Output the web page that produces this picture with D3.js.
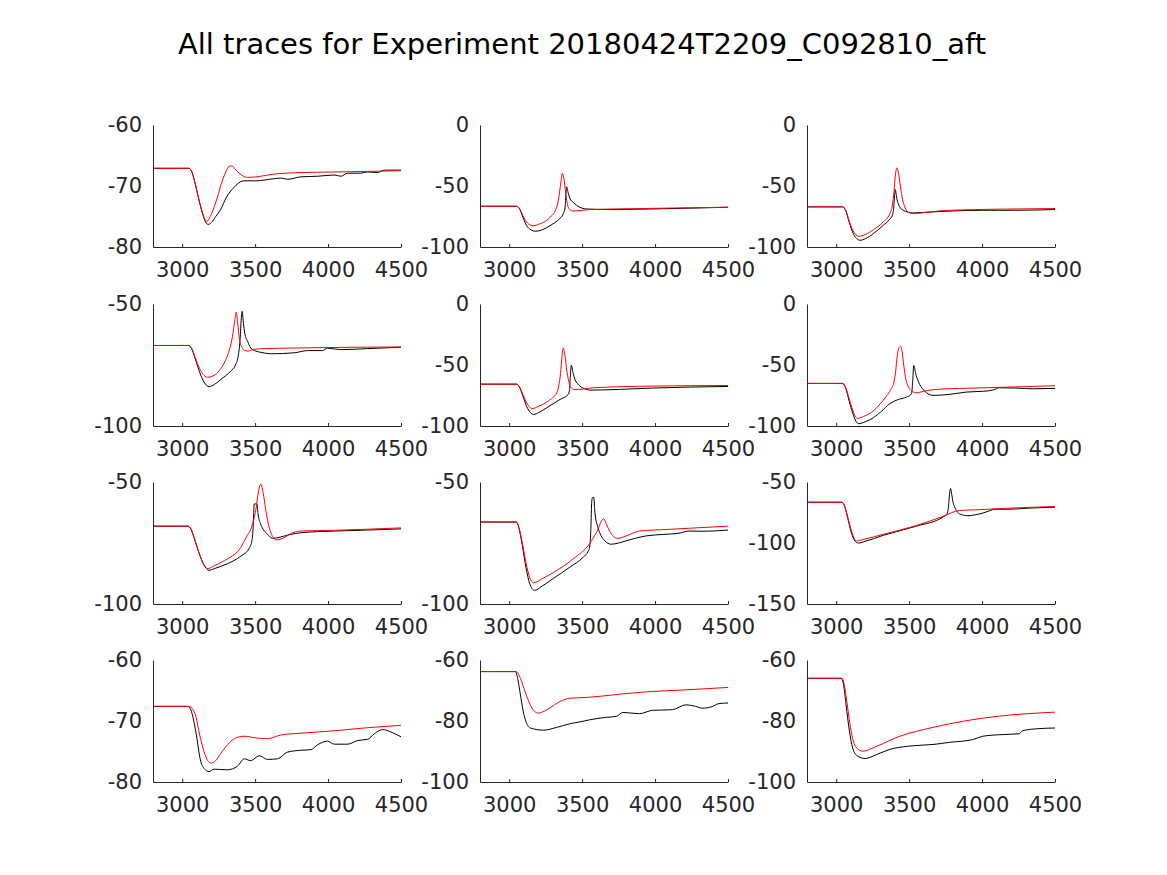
<!DOCTYPE html>
<html>
<head>
<meta charset="utf-8">
<script src="https://cdn.jsdelivr.net/npm/d3@7/dist/d3.min.js"></script>
<style>
  body { margin: 0; background: #fff; }
  svg { display: block; font-family: "DejaVu Sans", sans-serif; }
</style>
</head>
<body>
<div id="chart"></div>
<script>
// x range shared by all panels
let xDomain = [2800, 4500],
    xTicks = [3000, 3500, 4000, 4500];

// y range and ticks of each panel (row by row)
let yDomains = [[-80, -60], [-100, 0], [-100, 0],
                [-100, -50], [-100, 0], [-100, 0],
                [-100, -50], [-100, -50], [-150, -50],
                [-80, -60], [-100, -60], [-100, -60]];
let yTicks = [[-80, -70, -60], [-100, -50, 0], [-100, -50, 0],
              [-100, -50], [-100, -50, 0], [-100, -50, 0],
              [-100, -50], [-100, -50], [-150, -100, -50],
              [-80, -70, -60], [-100, -80, -60], [-100, -80, -60]];

// recorded traces (black), [time, value]
let rec1 = [[2800,-67.1],[3045,-67.1],[3065,-67.6],[3085,-69.2],[3115,-72.3],[3140,-74.6],[3160,-75.9],[3178,-76.3],[3200,-76.0],[3230,-75.0],[3265,-73.8],[3300,-72.0],[3356,-70.2],[3400,-69.3],[3425,-69.15],[3505,-69.15],[3631,-68.8],[3680,-68.7],[3722,-68.9],[3814,-68.5],[3928,-68.4],[4043,-68.2],[4088,-68.4],[4134,-67.9],[4225,-67.9],[4271,-67.7],[4340,-67.8],[4386,-67.4],[4500,-67.4]];
let rec2 = [[2800,-66.6],[3050,-66.6],[3070,-68.5],[3095,-76],[3120,-82.5],[3150,-86],[3179,-87.1],[3220,-86.2],[3258,-84.1],[3300,-81.0],[3340,-77.5],[3371,-72.6],[3383,-68],[3388,-58],[3394,-50.7],[3405,-56],[3417,-60.3],[3440,-63.5],[3462,-65.8],[3500,-68.2],[3530,-68.8],[3666,-69.3],[3983,-68.8],[4500,-67.4]];
let rec3 = [[2800,-67.1],[3045,-67.1],[3065,-70],[3090,-80],[3115,-88.5],[3140,-93],[3164,-94.5],[3200,-93.2],[3255,-89.0],[3323,-82.2],[3365,-77.5],[3385,-74],[3395,-67.1],[3400,-58],[3405,-52.9],[3415,-60],[3425,-64.4],[3440,-68],[3459,-69.9],[3527,-72.1],[3664,-71.2],[4005,-69.9],[4232,-69.9],[4500,-69.3]];
let rec4 = [[2800,-67.0],[3045,-67.0],[3065,-68.3],[3090,-72.5],[3120,-78],[3150,-82],[3184,-83.9],[3220,-83],[3265,-80.9],[3333,-77.5],[3365,-75],[3385,-71],[3397,-64.6],[3405,-56],[3411,-53.0],[3420,-58],[3429,-61.9],[3450,-65.5],[3470,-68.0],[3505,-69.3],[3539,-69.8],[3608,-70.4],[3768,-70.0],[3859,-69.1],[3962,-69.1],[3996,-68.1],[4088,-68.7],[4271,-68.3],[4500,-67.7]];
let rec5 = [[2800,-65.7],[3050,-65.7],[3070,-68],[3095,-76],[3120,-84],[3145,-89],[3167,-90.5],[3210,-88.5],[3258,-85.0],[3349,-78.2],[3405,-74.1],[3414,-70],[3419,-60],[3426,-50.1],[3437,-56],[3451,-61.9],[3470,-65.5],[3485,-67.3],[3520,-69.5],[3553,-70.6],[3757,-70.0],[3983,-68.9],[4500,-67.6]];
let rec6 = [[2800,-65.1],[3045,-65.1],[3065,-69],[3090,-80],[3115,-90],[3135,-96],[3152,-98.1],[3200,-96.5],[3255,-93.2],[3310,-88],[3368,-81.7],[3420,-78.5],[3482,-76.3],[3510,-74.5],[3518,-72.8],[3525,-62],[3532,-50.4],[3545,-57],[3562,-63.2],[3585,-68.5],[3607,-71.4],[3635,-74],[3664,-74.9],[3777,-74.1],[3891,-72.2],[4027,-71.4],[4080,-70.3],[4118,-68.7],[4232,-68.9],[4345,-69.5],[4500,-69.2]];
let rec7 = [[2800,-68.1],[3040,-68.1],[3060,-69.3],[3085,-73.5],[3115,-79],[3150,-84],[3184,-86.2],[3230,-85.3],[3310,-83.5],[3402,-80.4],[3459,-77.2],[3478,-74],[3485,-70],[3490,-63],[3494,-59.0],[3512,-59.0],[3520,-63],[3539,-67.4],[3560,-69.8],[3585,-71.4],[3619,-73.1],[3677,-72.5],[3740,-71.5],[3814,-70.8],[4043,-70.1],[4271,-69.7],[4500,-69.2]];
let rec8 = [[2800,-66.4],[3049,-66.4],[3065,-68.5],[3090,-76],[3115,-85],[3140,-91.5],[3174,-94.4],[3230,-92.5],[3303,-89.5],[3416,-84.9],[3507,-80.8],[3545,-78],[3555,-75],[3560,-69],[3566,-58],[3571,-56.3],[3580,-56.3],[3587,-62],[3609,-68.8],[3630,-72.0],[3655,-74.1],[3700,-75.5],[3750,-75],[3802,-74.1],[3938,-72.1],[4050,-71.5],[4164,-71.0],[4232,-70.1],[4323,-70.2],[4500,-69.7]];
let rec9 = [[2800,-66.6],[3039,-66.6],[3055,-69],[3080,-80],[3105,-92],[3130,-98.5],[3152,-100.1],[3190,-99],[3323,-93.7],[3550,-86.2],[3732,-78.7],[3760,-76],[3770,-70],[3777,-60],[3784,-55.4],[3792,-60],[3800,-66],[3811,-70.1],[3845,-76.0],[3902,-77.6],[4005,-75.5],[4095,-72.3],[4186,-72.3],[4323,-71.4],[4500,-70.6]];
let rec10 = [[2800,-67.6],[3040,-67.6],[3060,-68.2],[3093,-71.7],[3127,-76.6],[3155,-77.9],[3184,-78.3],[3219,-77.9],[3310,-78.0],[3379,-77.4],[3425,-76.2],[3470,-76.5],[3528,-75.7],[3585,-76.3],[3653,-76.2],[3722,-75.1],[3814,-74.8],[3882,-74.7],[3928,-73.9],[3996,-73.3],[4043,-73.8],[4134,-73.8],[4203,-73.2],[4271,-73.0],[4317,-72.1],[4374,-71.4],[4431,-71.8],[4500,-72.6]];
let rec11 = [[2800,-63.8],[3043,-63.8],[3060,-66.5],[3077,-71.4],[3095,-76.5],[3111,-79.6],[3145,-82.3],[3235,-83.0],[3326,-82.1],[3416,-80.9],[3485,-80.3],[3553,-79.6],[3666,-78.8],[3734,-78.5],[3779,-77.2],[3893,-77.6],[3983,-76.5],[4119,-76.3],[4210,-74.7],[4278,-75.2],[4323,-75.8],[4391,-75.3],[4436,-74.3],[4500,-74.1]];
let rec12 = [[2800,-66.0],[3034,-66.0],[3050,-68],[3073,-76.8],[3090,-83],[3107,-87.7],[3141,-91.3],[3198,-92.3],[3277,-91.0],[3368,-89.3],[3505,-88.2],[3664,-87.7],[3777,-87.0],[3936,-86.1],[4005,-85.0],[4118,-84.5],[4255,-84.2],[4277,-83.2],[4391,-82.5],[4500,-82.3]];

// model traces (red)
let sim1 = [[2800,-67.1],[3045,-67.1],[3065,-67.6],[3085,-69.2],[3115,-72.2],[3140,-74.4],[3168,-75.8],[3200,-74.6],[3242,-71.8],[3270,-69.5],[3299,-67.7],[3320,-66.8],[3340,-66.7],[3365,-67.3],[3390,-67.9],[3420,-68.4],[3448,-68.6],[3539,-68.4],[3631,-68.05],[3814,-67.8],[4043,-67.7],[4271,-67.6],[4500,-67.5]];
let sim2 = [[2800,-66.6],[3050,-66.6],[3070,-68.3],[3095,-74.5],[3120,-79.5],[3145,-82],[3167,-82.5],[3210,-81],[3258,-78.1],[3290,-74.5],[3315,-70.5],[3335,-63],[3350,-51],[3365,-39.7],[3378,-46],[3392,-60],[3410,-68.5],[3435,-70.5],[3462,-70.4],[3553,-69.3],[3757,-68.8],[4500,-67.4]];
let sim3 = [[2800,-67.1],[3045,-67.1],[3065,-70],[3090,-79],[3115,-86.5],[3135,-90],[3152,-91.2],[3200,-89.8],[3255,-85.8],[3323,-79.5],[3368,-72.6],[3385,-66],[3397,-54],[3407,-40],[3416,-35.1],[3428,-40],[3441,-50.7],[3455,-61],[3470,-67.1],[3495,-71.5],[3527,-72.6],[3641,-71.2],[3777,-69.9],[4500,-68.5]];
let sim4 = [[2800,-67.0],[3045,-67.0],[3065,-68.2],[3090,-72],[3120,-76.5],[3150,-79.3],[3174,-80.0],[3210,-79.5],[3242,-78.2],[3270,-76],[3299,-72.8],[3325,-68.5],[3345,-63.2],[3360,-57],[3370,-53.4],[3380,-57.5],[3393,-64.6],[3410,-67.8],[3425,-68.9],[3450,-69.3],[3490,-68.6],[3562,-68.3],[3814,-68.0],[4500,-67.6]];
let sim5 = [[2800,-65.7],[3050,-65.7],[3070,-67.8],[3095,-74.5],[3120,-81],[3140,-84.5],[3156,-85.8],[3200,-84],[3258,-80.4],[3300,-76.5],[3326,-72.8],[3340,-67],[3352,-57],[3362,-43],[3371,-36.0],[3382,-42],[3394,-53.7],[3408,-63],[3421,-68.1],[3445,-70],[3473,-70.0],[3575,-68.7],[3983,-67.3],[4500,-66.8]];
let sim6 = [[2800,-65.1],[3045,-65.1],[3065,-68.5],[3090,-78],[3115,-87.5],[3130,-92],[3145,-93.7],[3200,-91.5],[3255,-87.7],[3300,-82],[3345,-75.5],[3375,-70],[3395,-64.6],[3408,-55],[3418,-42.8],[3430,-36],[3443,-34.6],[3453,-40],[3464,-51.0],[3478,-62],[3493,-67.3],[3520,-71.5],[3550,-72.8],[3600,-71.5],[3686,-70.0],[4005,-68.7],[4500,-67.0]];
let sim7 = [[2800,-68.1],[3040,-68.1],[3060,-69.2],[3085,-73.3],[3115,-79],[3145,-83.5],[3173,-85.5],[3230,-84],[3310,-81.5],[3402,-76.8],[3440,-72.5],[3470,-69.4],[3490,-65.5],[3505,-61.4],[3520,-55],[3532,-51.5],[3541,-50.9],[3550,-53],[3562,-57],[3573,-61.4],[3590,-67],[3608,-70.8],[3625,-72.8],[3642,-73.7],[3670,-73.5],[3699,-72.8],[3750,-71],[3814,-70.1],[4043,-69.8],[4500,-68.8]];
let sim8 = [[2800,-66.4],[3049,-66.4],[3065,-68.3],[3090,-75],[3115,-83],[3140,-89],[3167,-91.3],[3230,-89.5],[3303,-87.1],[3439,-81.5],[3553,-75.1],[3580,-72.5],[3609,-69.4],[3628,-66.5],[3648,-65.1],[3668,-67.5],[3689,-70.2],[3715,-72.3],[3746,-73.1],[3802,-72.1],[3893,-70.1],[4097,-69.4],[4500,-68.1]];
let sim9 = [[2800,-66.6],[3039,-66.6],[3055,-68.8],[3080,-79],[3105,-90],[3125,-96.5],[3141,-98.3],[3190,-97],[3323,-92.9],[3550,-85.7],[3732,-78.2],[3845,-73.3],[3959,-72.8],[4141,-71.7],[4500,-70.1]];
let sim10 = [[2800,-67.6],[3050,-67.6],[3070,-68.0],[3093,-69.2],[3120,-72.3],[3150,-75.0],[3175,-76.5],[3201,-76.9],[3230,-76.5],[3265,-75.3],[3300,-74.2],[3345,-73.1],[3390,-72.6],[3425,-72.5],[3516,-72.8],[3585,-72.9],[3676,-72.3],[3814,-72.0],[4043,-71.6],[4271,-71.1],[4500,-70.7]];
let sim11 = [[2800,-63.8],[3050,-63.8],[3077,-66.0],[3110,-70.5],[3145,-74.7],[3175,-76.9],[3201,-77.4],[3258,-76.3],[3349,-73.6],[3416,-72.5],[3530,-72.3],[3757,-71.2],[3983,-70.3],[4210,-69.8],[4500,-69.0]];
let sim12 = [[2800,-66.0],[3040,-66.0],[3055,-68],[3073,-73.6],[3090,-79.5],[3107,-84.5],[3140,-88.8],[3182,-89.9],[3277,-88.3],[3436,-85.0],[3664,-82.1],[3891,-79.9],[4118,-78.4],[4500,-77.1]];

let recorded = [rec1, rec2, rec3, rec4, rec5, rec6, rec7, rec8, rec9, rec10, rec11, rec12];
let simulated = [sim1, sim2, sim3, sim4, sim5, sim6, sim7, sim8, sim9, sim10, sim11, sim12];

let width = 1167,
    height = 875,
    textColor = "#262626";

// panel layout (pixels)
let colLeft = [153, 480, 807],
    rowTop = [125, 304, 482, 660],
    panelW = 248,
    panelH = 122;

let svg = d3.select("#chart").append("svg")
    .attr("width", width)
    .attr("height", height);

svg.append("text")
    .attr("x", 582)
    .attr("y", 54)
    .attr("text-anchor", "middle")
    .attr("font-size", 29)
    .attr("fill", "#000")
    .text("All traces for Experiment 20180424T2209_C092810_aft");

recorded.forEach(function (rec, i) {
    let col = i % 3,
        row = Math.floor(i / 3);

    let g = svg.append("g")
        .attr("transform", "translate(" + colLeft[col] + "," + rowTop[row] + ")");

    let x = d3.scaleLinear().domain(xDomain).range([0, panelW]);
    let y = d3.scaleLinear().domain(yDomains[i]).range([panelH, 0]);

    let line = d3.line()
        .x(d => x(d[0]))
        .y(d => y(d[1]))
        .curve(d3.curveMonotoneX);

    g.append("path")
        .datum(rec)
        .attr("fill", "none")
        .attr("stroke", "#000")
        .attr("stroke-width", 1)
        .attr("d", line);

    g.append("path")
        .datum(simulated[i])
        .attr("fill", "none")
        .attr("stroke", "#ff0000")
        .attr("stroke-width", 1)
        .attr("d", line);

    // x axis, ticks pointing inward; plain hyphen for negatives
    let xAxis = g.append("g")
        .attr("transform", "translate(0," + panelH + ")")
        .call(d3.axisBottom(x)
            .tickValues(xTicks)
            .tickFormat(d => String(d))
            .tickSizeInner(-3)
            .tickSizeOuter(0)
            .tickPadding(15));

    let yAxis = g.append("g")
        .call(d3.axisLeft(y)
            .tickValues(yTicks[i])
            .tickFormat(d => String(d))
            .tickSizeInner(0)
            .tickSizeOuter(0)
            .tickPadding(11));

    [xAxis, yAxis].forEach(function (a) {
        a.select(".domain").attr("stroke", textColor).attr("stroke-width", 1);
        a.selectAll(".tick line").attr("stroke", textColor);
        a.selectAll(".tick text")
            .attr("fill", textColor)
            .attr("font-size", 21)
            .attr("font-family", "DejaVu Sans");
    });
});
</script>
</body>
</html>
